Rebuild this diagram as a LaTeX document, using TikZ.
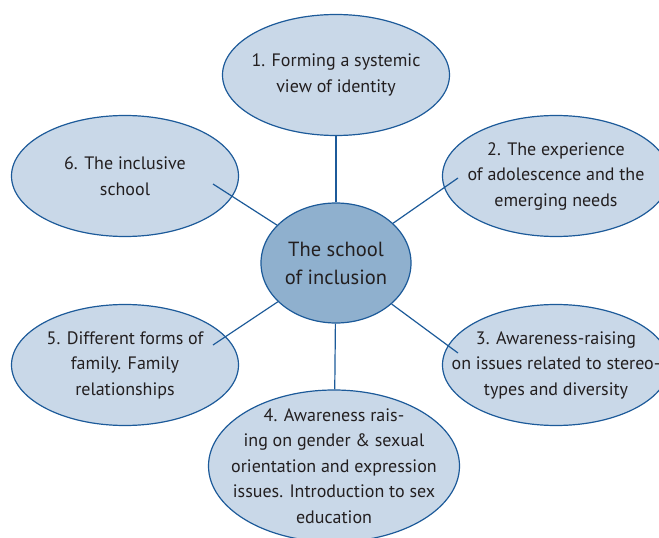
\documentclass[tikz,border=0pt]{standalone}
\usepackage{fontspec}
\setmainfont{PT Sans}
\usetikzlibrary{shapes.geometric}
\definecolor{rim}{HTML}{1C5A99}
\definecolor{pale}{HTML}{C9D8E8}
\definecolor{hubfill}{HTML}{8FB0CE}
\definecolor{ink}{HTML}{231F20}
\tikzset{font=\fontsize{18}{25.5}\selectfont}
\tikzset{every label/.append style={align=center, text=ink}}
\tikzset{topic/.style={ellipse, draw=rim, fill=pale, line width=1.2pt, inner sep=0pt,
    minimum width=227pt, minimum height=121pt}}
\tikzset{link/.style={draw=rim, line width=1.2pt}}

\begin{document}
\begin{tikzpicture}[x=1pt,y=-1pt]
\useasboundingbox (0,0) rectangle (659,538);
% the six topics round the centre
\node[topic, label=center:{1. Forming a systemic\\view of identity}] (e1) at (336,75) {};
\node[topic, label=center:{2. The experience\\of adolescence and the\\emerging needs}] (e2) at (556,176) {};
\node[topic, label=center:{3. Awareness-raising\\on issues related to stereo-\\types and diversity}] (e3) at (556,365) {};
\node[topic, minimum width=251pt, minimum height=152pt,
  label=center:{4. Awareness rais-\\ing on gender \& sexual\\orientation and expression\\issues. Introduction to sex\\education}] (e4) at (334,466) {};
\node[topic, label=center:{5. Different forms of\\family. Family\\relationships}] (e5) at (125,365) {};
\node[topic, label=center:{6. The inclusive\\school}] (e6) at (125,176) {};
\node[topic, fill=hubfill, minimum width=150pt, minimum height=120pt,
  label={[font=\fontsize{20.5}{28}\selectfont]center:The school\\of inclusion}] (hub) at (336,263) {};
% free ends of the slanted spokes
\coordinate (c2) at (458,178);
\coordinate (c3) at (458,353);
\coordinate (c5) at (213,345);
\coordinate (c6) at (213,184);
\draw[link] (hub) -- (e1);
\draw[link] (hub) -- (c2);
\draw[link] (hub) -- (c3);
\draw[link] (hub) -- (e4);
\draw[link] (hub) -- (c5);
\draw[link] (hub) -- (c6);
\end{tikzpicture}
\end{document}
